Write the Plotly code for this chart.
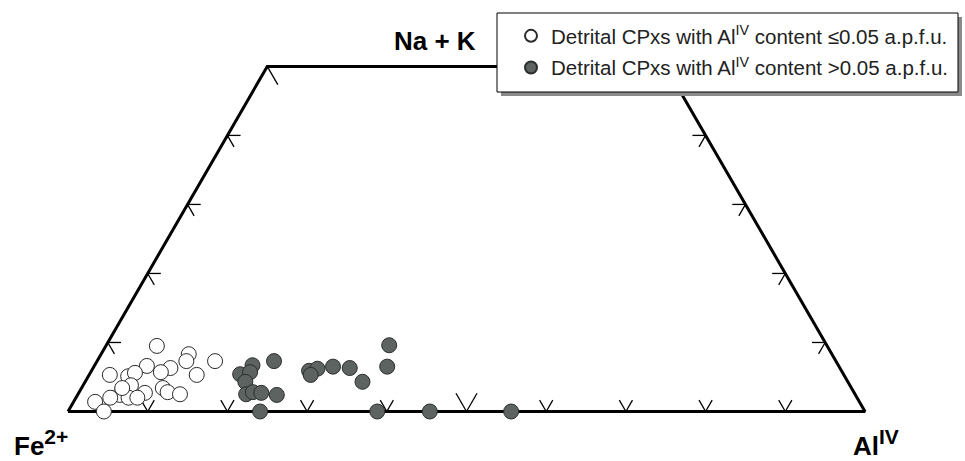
import math
import plotly.graph_objects as go

# Ternary compositions (fractions); Fe2+ = 1 - (Na+K) - AlIV
low_na_k = [0.095, 0.083, 0.073, 0.073, 0.053, 0.066, 0.063, 0.057, 0.053, 0.051, 0.056, 0.038,
            0.034, 0.028, 0.025, 0.027, 0.024, 0.020, 0.020, 0.020, 0.014, 0.000, 0.034]
low_al_iv = [0.064, 0.110, 0.112, 0.148, 0.026, 0.066, 0.097, 0.088, 0.135, 0.050, 0.056, 0.060,
             0.102, 0.111, 0.128, 0.083, 0.053, 0.066, 0.077, 0.043, 0.027, 0.045, 0.051]

high_na_k = [0.096, 0.073, 0.067, 0.054, 0.057, 0.043, 0.025, 0.028, 0.027, 0.024, 0.000,
             0.059, 0.062, 0.053, 0.065, 0.063, 0.043, 0.065, 0.000, 0.000, 0.000]
high_al_iv = [0.355, 0.222, 0.198, 0.189, 0.200, 0.201, 0.211, 0.218, 0.229, 0.250, 0.241,
              0.273, 0.282, 0.278, 0.300, 0.322, 0.348, 0.368, 0.388, 0.454, 0.556]

# Diagram is truncated at Na+K = 0.5
top_cut = 0.5
base_ticks = [0.1, 0.2, 0.3, 0.4, 0.5, 0.6, 0.7, 0.8, 0.9]
side_ticks = [0.1, 0.2, 0.3, 0.4, 0.5]

legend_low = "Detrital CPxs with Al<sup>IV</sup> content ≤0.05 a.p.f.u."
legend_high = "Detrital CPxs with Al<sup>IV</sup> content >0.05 a.p.f.u."

SQ3 = math.sqrt(3)
W, H = 965, 461
FONT = "Liberation Sans, Arial, sans-serif"


def to_xy(a, c):
    """Ternary (a = Na+K, c = AlIV) to cartesian, Fe2+ at origin, AlIV at (1, 0)."""
    return c + a / 2.0, a * SQ3 / 2.0


def tick_lines(base_pts, dirs, big_at=None):
    xs, ys = [], []
    for t, (bx, by) in base_pts:
        length = 0.0264 if (big_at is not None and abs(t - big_at) < 1e-9) else 0.0165
        for dx, dy in dirs:
            xs += [bx, bx + dx * length, None]
            ys += [by, by + dy * length, None]
    return xs, ys


fig = go.Figure()

# frame of the truncated triangle
corners = [to_xy(0, 0), to_xy(0, 1), to_xy(top_cut, 1 - top_cut), to_xy(top_cut, 0), to_xy(0, 0)]
fig.add_trace(go.Scatter(x=[p[0] for p in corners], y=[p[1] for p in corners], mode="lines",
                         line=dict(color="black", width=3), showlegend=False, hoverinfo="skip"))

# chevron ticks on each edge
tx, ty = [], []
bx, by = tick_lines([(t, to_xy(0, t)) for t in base_ticks],
                    [(-0.5, SQ3 / 2), (0.5, SQ3 / 2)], big_at=0.5)
tx += bx; ty += by
lx, ly = tick_lines([(t, to_xy(t, 0)) for t in side_ticks],
                    [(1, 0), (0.5, -SQ3 / 2)], big_at=0.5)
tx += lx; ty += ly
rx, ry = tick_lines([(t, to_xy(t, 1 - t)) for t in side_ticks],
                    [(-1, 0), (-0.5, -SQ3 / 2)], big_at=0.5)
tx += rx; ty += ry
fig.add_trace(go.Scatter(x=tx, y=ty, mode="lines", line=dict(color="black", width=1.3),
                         showlegend=False, hoverinfo="skip"))

lx_pts = [to_xy(a, c) for a, c in zip(low_na_k, low_al_iv)]
hx_pts = [to_xy(a, c) for a, c in zip(high_na_k, high_al_iv)]

fig.add_trace(go.Scatter(x=[p[0] for p in lx_pts], y=[p[1] for p in lx_pts], mode="markers",
                         name=legend_low, legendgroup="low",
                         marker=dict(size=15, color="white", line=dict(color="#2a2a2a", width=1))))
fig.add_trace(go.Scatter(x=[p[0] for p in hx_pts], y=[p[1] for p in hx_pts], mode="markers",
                         name=legend_high, legendgroup="high",
                         marker=dict(size=15, color="#5d6361", line=dict(color="#2a2e2c", width=1))))

# pixel layout: Fe2+ apex at (68, 411.5), 797 px per unit
ox, oy, scale = 68.0, 411.5, 797.0
x_range = [-ox / scale, (W - ox) / scale]
y_range = [-(H - oy) / scale, oy / scale]


def px(x):
    return x / W


def py(y):
    return 1 - y / H


SUP = "<span style='font-size:21px'>{}</span>"
annotations = [
    dict(text="<b>Na + K</b>", x=px(435), y=py(41)),
    dict(text="<b>Fe<sup>" + SUP.format("2+") + "</sup></b>", x=px(41), y=py(443)),
    dict(text="<b>Al<sup>" + SUP.format("IV") + "</sup></b>", x=px(876), y=py(443)),
]
for a in annotations:
    a.update(xref="paper", yref="paper", showarrow=False, xanchor="center", yanchor="middle",
             borderpad=0, font=dict(family=FONT, size=26, color="black"))

# legend frame with drop shadow (drawn above the diagram, below the legend entries)
legend_box = dict(x0=497, x1=958, y0=13, y1=92)
shadow_off = 4

fig.update_layout(
    width=W, height=H,
    margin=dict(l=0, r=0, t=0, b=0),
    paper_bgcolor="white", plot_bgcolor="white",
    xaxis=dict(range=x_range, visible=False, fixedrange=True),
    yaxis=dict(range=y_range, visible=False, fixedrange=True),
    showlegend=True,
    legend=dict(x=px(511), y=py(16), xanchor="left", yanchor="top",
                bgcolor="rgba(0,0,0,0)", borderwidth=0,
                font=dict(family=FONT, size=20.5, color="#222"),
                itemsizing="constant", traceorder="grouped", tracegroupgap=2),
    shapes=[
        dict(type="rect", xref="paper", yref="paper", layer="above",
             x0=px(legend_box["x0"] + shadow_off), x1=px(legend_box["x1"] + shadow_off),
             y0=py(legend_box["y1"] + shadow_off), y1=py(legend_box["y0"] + shadow_off),
             fillcolor="#8a8a8a", line=dict(width=0)),
        dict(type="rect", xref="paper", yref="paper", layer="above",
             x0=px(legend_box["x0"]), x1=px(legend_box["x1"]),
             y0=py(legend_box["y1"]), y1=py(legend_box["y0"]),
             fillcolor="white", line=dict(color="black", width=1)),
    ],
    annotations=annotations,
)

fig.write_html("out.html")
